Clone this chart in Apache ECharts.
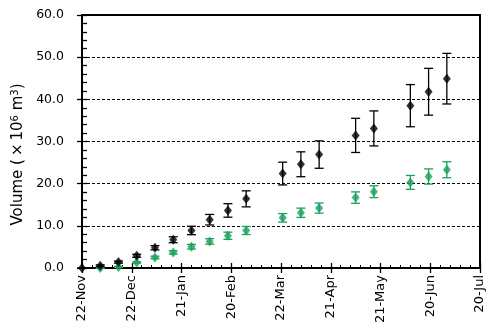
<!DOCTYPE html>
<html>
<head>
<meta charset="utf-8">
<script src="https://cdn.jsdelivr.net/npm/echarts@6/dist/echarts.min.js"></script>
<style>
  html, body { margin: 0; padding: 0; background: #fff; }
  #chart { width: 500px; height: 334px; }
</style>
</head>
<body>
<div id="chart"></div>
<script>
// Survey start date; the x axis counts days from here
const startDate = '2022-11-22';

// Survey dates
const sampleDates = [
  '2022-11-22', '2022-12-03', '2022-12-14', '2022-12-25', '2023-01-05', '2023-01-16',
  '2023-01-27', '2023-02-07', '2023-02-18', '2023-03-01', '2023-03-23', '2023-04-03',
  '2023-04-14', '2023-05-06', '2023-05-17', '2023-06-08', '2023-06-19', '2023-06-30'
];

// Cumulative volume (×10^6 m^3) and uncertainty, black series
const blackVolume = [0, 0.55, 1.4, 2.9, 4.8, 6.7, 8.9, 11.45, 13.65, 16.4, 22.4, 24.6, 26.9, 31.45, 33.1, 38.5, 41.8, 44.9];
const blackError  = [0, 0.2, 0.25, 0.35, 0.5, 0.7, 1.0, 1.25, 1.6, 1.9, 2.7, 2.95, 3.25, 4.05, 4.15, 5.0, 5.55, 6.0];

// Cumulative volume (×10^6 m^3) and uncertainty, green series
const greenVolume = [null, 0, 0.25, 1.3, 2.5, 3.7, 5.05, 6.3, 7.65, 8.9, 11.9, 13.1, 14.2, 16.7, 18.1, 20.3, 21.7, 23.3];
const greenError  = [null, 0.05, 0.1, 0.15, 0.3, 0.4, 0.55, 0.65, 0.85, 0.95, 1.0, 1.1, 1.2, 1.35, 1.4, 1.65, 1.8, 1.9];

// Axis tick labels
const xTickLabels = ['22-Nov', '22-Dec', '21-Jan', '20-Feb', '22-Mar', '21-Apr', '21-May', '20-Jun', '20-Jul'];
const yTickLabels = ['0.0', '10.0', '20.0', '30.0', '40.0', '50.0', '60.0'];

const DAY = 86400000;
const dayOf = d => (Date.parse(d) - Date.parse(startDate)) / DAY;
const xDays = sampleDates.map(dayOf);

const FONT = 'DejaVu Sans';
const GREEN = '#19a15b';

function points(values) {
  return values.map((v, i) => (v == null ? null : [xDays[i], v])).filter(Boolean);
}
function bars(values, errs) {
  return values
    .map((v, i) => (v == null ? null : [xDays[i], v - errs[i], v + errs[i]]))
    .filter(Boolean);
}

function errorBar(color) {
  return function (params, api) {
    const x = api.value(0);
    const top = api.coord([x, api.value(2)]);
    const bot = api.coord([x, api.value(1)]);
    const hw = 4.5;
    const style = { stroke: color, lineWidth: 1.3 };
    return {
      type: 'group',
      children: [
        { type: 'line', shape: { x1: top[0], y1: top[1], x2: bot[0], y2: bot[1] }, style },
        { type: 'line', shape: { x1: top[0] - hw, y1: top[1], x2: top[0] + hw, y2: top[1] }, style },
        { type: 'line', shape: { x1: bot[0] - hw, y1: bot[1], x2: bot[0] + hw, y2: bot[1] }, style }
      ]
    };
  };
}

const chart = echarts.init(document.getElementById('chart'), null, { renderer: 'canvas' });

chart.setOption({
  animation: false,
  backgroundColor: '#fff',
  grid: {
    left: 82, right: 20, top: 15, bottom: 66,
    show: true, borderColor: '#000', borderWidth: 2, backgroundColor: 'transparent'
  },
  xAxis: [
    {
      type: 'value', min: 0, max: 240, interval: 30, position: 'bottom',
      axisLine: { onZero: false, lineStyle: { color: '#000', width: 2 } },
      axisTick: { length: 5, lineStyle: { color: '#000', width: 1.3 } },
      axisLabel: {
        rotate: 90, margin: 7, fontSize: 13, fontFamily: FONT, color: '#000',
        formatter: v => xTickLabels[Math.round(v / 30)]
      },
      splitLine: { show: false }
    },
    {
      type: 'value', min: 0, max: 240, interval: 30, position: 'bottom',
      axisLine: { show: false },
      axisTick: { inside: true, length: 5, lineStyle: { color: '#000', width: 1.3 } },
      minorTick: { show: true, splitNumber: 5, length: 3, lineStyle: { color: '#000', width: 1 } },
      axisLabel: { show: false },
      splitLine: { show: false }
    }
  ],
  yAxis: [
    {
      type: 'value', min: 0, max: 60, interval: 10, position: 'left',
      name: '{t|Volume (\u2009×\u200910}{s|6}{t| m}{s|3}{t|)}',
      nameLocation: 'middle', nameRotate: 90, nameGap: 54,
      nameTextStyle: {
        padding: [0, 26, 0, 0],
        rich: {
          t: { fontSize: 15, fontFamily: FONT, color: '#000' },
          s: { fontSize: 10, fontFamily: FONT, color: '#000', verticalAlign: 'top' }
        }
      },
      axisLine: { onZero: false, lineStyle: { color: '#000', width: 2 } },
      axisTick: { length: 5, lineStyle: { color: '#000', width: 1.3 } },
      axisLabel: {
        margin: 18, fontSize: 12.5, fontFamily: FONT, color: '#000',
        formatter: v => yTickLabels[Math.round(v / 10)]
      },
      splitLine: { show: true, lineStyle: { color: '#000', width: 1, type: [3, 2] } }
    },
    {
      type: 'value', min: 0, max: 60, interval: 10, position: 'left',
      axisLine: { show: false },
      axisTick: { inside: true, length: 5, lineStyle: { color: '#000', width: 1.3 } },
      minorTick: { show: true, splitNumber: 5, length: 5, lineStyle: { color: '#000', width: 1.3 } },
      axisLabel: { show: false },
      splitLine: { show: false }
    }
  ],
  series: [
    {
      type: 'custom', name: 'green error', xAxisIndex: 0, yAxisIndex: 0,
      renderItem: errorBar(GREEN), data: bars(greenVolume, greenError), clip: false, z: 3
    },
    {
      type: 'scatter', name: 'green', xAxisIndex: 0, yAxisIndex: 0,
      symbol: 'diamond', symbolSize: [8, 10], itemStyle: { color: GREEN },
      data: points(greenVolume), clip: false, z: 4
    },
    {
      type: 'custom', name: 'black error', xAxisIndex: 0, yAxisIndex: 0,
      renderItem: errorBar('#000'), data: bars(blackVolume, blackError), clip: false, z: 5
    },
    {
      type: 'scatter', name: 'black', xAxisIndex: 0, yAxisIndex: 0,
      symbol: 'diamond', symbolSize: [8, 10], itemStyle: { color: '#000' },
      data: points(blackVolume), clip: false, z: 6
    }
  ]
});
</script>
</body>
</html>
